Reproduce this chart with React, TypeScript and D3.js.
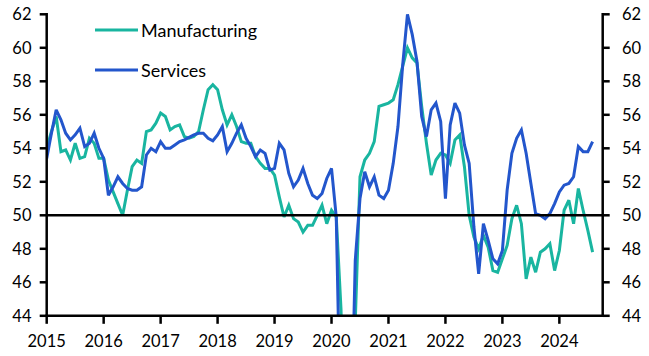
import React from 'react';
import * as d3 from 'd3';

const years = [2015, 2016, 2017, 2018, 2019, 2020, 2021, 2022, 2023, 2024];
const yTicks = [44, 46, 48, 50, 52, 54, 56, 58, 60, 62];
const seriesNames = ['Manufacturing', 'Services'];

// Monthly values, Jan 2015 - Aug 2024
const manufacturing = [
  54.0, 55.0, 55.9, 53.8, 53.9, 53.3, 54.3, 53.4, 53.5, 54.6, 54.3, 53.4,
  53.4, 52.1, 51.4, 50.7, 50.0, 51.5, 52.9, 53.3, 53.1, 55.0, 55.1, 55.5,
  56.1, 55.9, 55.1, 55.3, 55.4, 54.7, 54.6, 54.7, 55.0, 56.3, 57.5, 57.8,
  57.5, 56.3, 55.4, 56.0, 55.3, 54.4, 54.3, 54.3, 53.5, 53.1, 52.8, 52.8,
  52.4, 51.1, 49.9, 50.6, 49.8, 49.6, 49.0, 49.4, 49.4, 50.0, 50.6, 49.5,
  50.3, 49.9, 44.4, 33.0, 39.0, 43.6, 52.3, 53.3, 53.7, 54.4, 56.5, 56.6,
  56.7, 56.9, 57.8, 58.9, 60.0, 59.4, 59.1, 56.5, 54.3, 52.4, 53.3, 53.7,
  53.6, 53.1, 54.5, 54.8, 52.9, 50.0, 48.7, 48.0, 48.8, 48.1, 46.7, 46.6,
  47.4, 48.2, 49.8, 50.6, 49.5, 46.2, 47.5, 46.6, 47.8, 48.0, 48.3, 46.7,
  47.9, 50.3, 50.9, 49.5, 51.6, 50.3, 49.1, 47.8,
];

const services = [
  53.4, 54.9, 56.3, 55.7, 54.9, 54.5, 54.8, 55.2, 54.1, 54.3, 54.9, 54.0,
  53.4, 51.2, 51.7, 52.3, 51.9, 51.6, 51.5, 51.5, 51.7, 53.6, 54.0, 53.8,
  54.4, 54.0, 54.0, 54.2, 54.4, 54.5, 54.65, 54.8, 54.9, 54.9, 54.6, 54.45,
  54.8, 55.3, 53.8, 54.3, 54.9, 55.4, 54.6, 54.1, 53.5, 53.9, 53.7, 52.7,
  52.8, 54.3, 53.9, 52.5, 51.7, 52.1, 52.8, 51.9, 51.2, 51.0, 51.3, 52.2,
  52.8, 49.9, 36.0, 15.0, 35.0, 47.3, 51.0, 52.6, 51.7, 52.3, 51.2, 51.0,
  51.5, 53.1, 55.3, 59.0, 62.0, 60.8, 59.2, 55.9, 54.7, 56.3, 56.7, 55.6,
  51.0, 55.4, 56.7, 56.1, 54.2, 53.1, 49.3, 46.5, 49.5, 48.5, 47.4, 47.1,
  47.9, 51.5, 53.7, 54.6, 55.1, 53.7, 51.9, 50.1, 50.0, 49.8, 50.1, 50.7,
  51.4, 51.8, 51.9, 52.3, 54.1, 53.8, 53.8, 54.4,
];

const colors = ['#19b5a0', '#2356cc'];

export default function App() {
  const W = 649;
  const H = 356;
  const left = 46.7;
  const right = 602.7;
  const top = 14.3;
  const bottom = 315.8;
  const font = 'Lato, "Open Sans", sans-serif';

  const x = d3.scaleLinear().domain([0, 117.13]).range([left, right]);
  const y = d3.scaleLinear().domain([44, 62]).range([bottom, top]);
  const monthIdx = (yr: number) => (yr - years[0]) * 12;

  const line = d3
    .line<number>()
    .x((_, i) => x(i))
    .y((d) => y(d));

  const data = [manufacturing, services];

  return (
    <svg
      width={W}
      height={H}
      style={{ position: 'absolute', left: 0, top: 0, background: '#fff' }}
      fontFamily={font}
    >
      <defs>
        <clipPath id="plot">
          <rect x={left} y={0} width={right - left} height={bottom} />
        </clipPath>
      </defs>
      <rect x={0} y={0} width={W} height={H} fill="#fff" />

      {/* series */}
      <g clipPath="url(#plot)">
        {data.map((s, i) => (
          <path
            key={seriesNames[i]}
            d={line(s) || ''}
            fill="none"
            stroke={colors[i]}
            strokeWidth={3}
            strokeLinejoin="miter"
            strokeMiterlimit={3}
          />
        ))}
      </g>

      {/* 50 line */}
      <line x1={left} x2={right} y1={y(50)} y2={y(50)} stroke="#000" strokeWidth={2.5} />

      {/* axes */}
      <g stroke="#000" strokeWidth={2.5}>
        <line x1={left} x2={left} y1={top - 1.2} y2={bottom + 1.2} />
        <line x1={right} x2={right} y1={top - 1.2} y2={bottom + 1.2} />
        <line x1={left - 1.2} x2={right + 1.2} y1={bottom} y2={bottom} />
        {yTicks.map((t) => (
          <g key={'yt' + t}>
            <line x1={left - 7} x2={left} y1={y(t)} y2={y(t)} />
            <line x1={right} x2={right + 7} y1={y(t)} y2={y(t)} />
          </g>
        ))}
        {years.map((yr) => (
          <line key={'xt' + yr} x1={x(monthIdx(yr))} x2={x(monthIdx(yr))} y1={bottom} y2={bottom + 8} />
        ))}
      </g>

      <g fontSize={16.5} fill="#000">
        {yTicks.map((t) => (
          <text key={'yl' + t} x={31.5} y={y(t)} dy="0.36em" textAnchor="end">
            {t}
          </text>
        ))}
        {yTicks.map((t) => (
          <text key={'yr' + t} x={622} y={y(t)} dy="0.36em" textAnchor="start">
            {t}
          </text>
        ))}
        {years.map((yr) => (
          <text key={'xl' + yr} x={x(monthIdx(yr))} y={346.5} textAnchor="middle">
            {yr}
          </text>
        ))}
      </g>

      {/* legend */}
      {seriesNames.map((n, i) => (
        <g key={'lg' + n}>
          <line x1={95} x2={138} y1={30 + i * 40} y2={30 + i * 40} stroke={colors[i]} strokeWidth={3} />
          <text x={141} y={36.8 + i * 40} fontSize={18} fill="#000">
            {n}
          </text>
        </g>
      ))}
    </svg>
  );
}
